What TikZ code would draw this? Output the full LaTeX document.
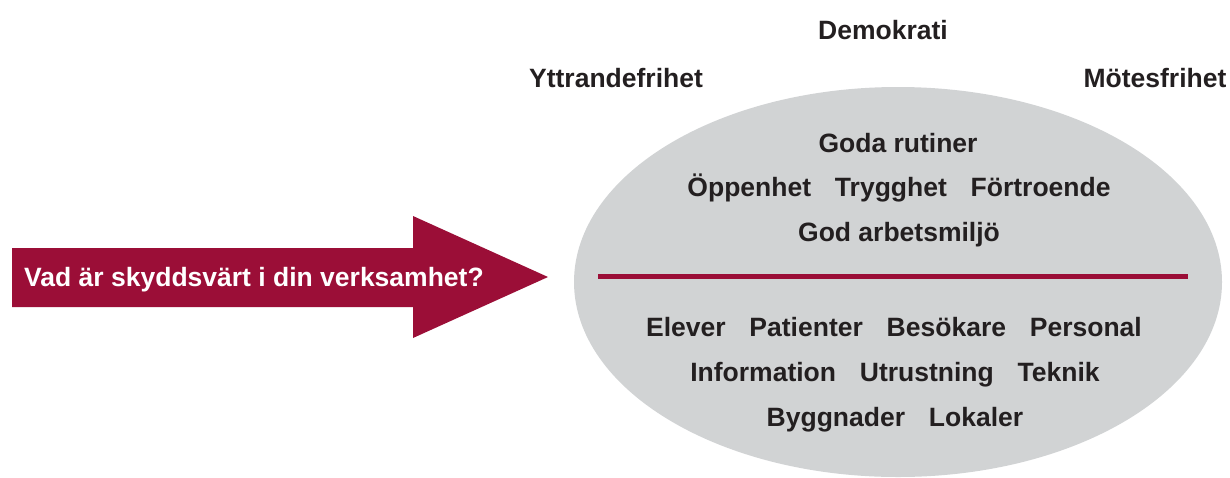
\documentclass[tikz,border=0pt]{standalone}
\usepackage{fontspec}
\setmainfont{Liberation Sans}
\definecolor{vinred}{RGB}{155,14,55}
\definecolor{ovalgray}{RGB}{209,211,212}
\definecolor{inkgray}{RGB}{35,31,32}
\newcommand{\wgap}{\hspace{0.9em}}
\begin{document}
\begin{tikzpicture}[x=1pt, y=-1pt,
    word/.style={font=\fontsize{26.5}{30}\selectfont\bfseries, text=inkgray, inner sep=0pt,
        text height=19pt, text depth=0pt, anchor=center}]
    \useasboundingbox (0,0) rectangle (1230,477);
    % Oval of values
    \fill[ovalgray] (898,282) ellipse [x radius=324, y radius=195];
    % Divider
    \coordinate (dl) at (598,276);
    \coordinate (dr) at (1188,276);
    \draw[vinred, line width=5pt] (dl) -- (dr);
    % Arrow
    \coordinate (a1) at (12,248);
    \coordinate (a2) at (413,248);
    \coordinate (a3) at (413,216);
    \coordinate (tip) at (548,277);
    \coordinate (a5) at (413,338);
    \coordinate (a6) at (413,307);
    \coordinate (a7) at (12,307);
    \fill[vinred] (a1) -- (a2) -- (a3) -- (tip) -- (a5) -- (a6) -- (a7) -- cycle;
    \node[word, text=white] (question) at (254,277) {Vad är skyddsvärt i din verksamhet?};
    % Outer words
    \node[word] (demokrati) at (883,30) {Demokrati};
    \node[word] (yttrande) at (616,78) {Yttrandefrihet};
    \node[word] (motes) at (1155,78) {Mötesfrihet};
    % Upper half
    \node[word] (rutiner) at (898,143) {Goda rutiner};
    \node[word] (oppenhet) at (899,187) {Öppenhet\wgap Trygghet\wgap Förtroende};
    \node[word] (miljo) at (899,232) {God arbetsmiljö};
    % Lower half
    \node[word] (elever) at (894,327) {Elever\wgap Patienter\wgap Besökare\wgap Personal};
    \node[word] (info) at (895,372) {Information\wgap Utrustning\wgap Teknik};
    \node[word] (lokaler) at (895,417) {Byggnader\wgap Lokaler};
\end{tikzpicture}
\end{document}
